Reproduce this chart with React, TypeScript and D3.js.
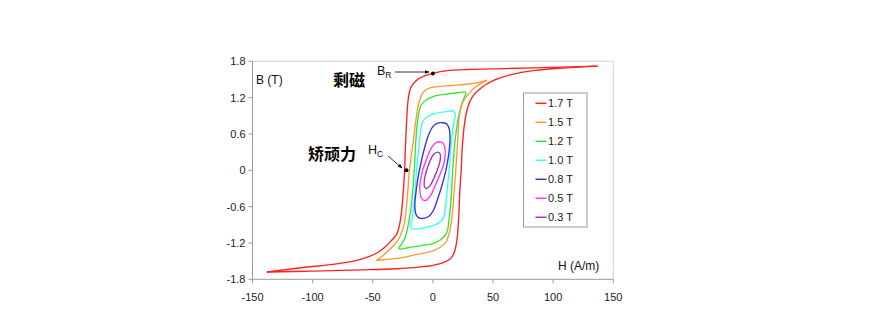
import React from "react";
import * as d3 from "d3";

const W = 870;
const H = 331;

const xTicks = [-150, -100, -50, 0, 50, 100, 150];
const xTickLabels = ["-150", "-100", "-50", "0", "50", "100", "150"];
const yTicks = [1.8, 1.2, 0.6, 0, -0.6, -1.2, -1.8];
const yTickLabels = ["1.8", "1.2", "0.6", "0", "-0.6", "-1.2", "-1.8"];

const seriesNames = ["1.7 T", "1.5 T", "1.2 T", "1.0 T", "0.8 T", "0.5 T", "0.3 T"];
const seriesColors = ["#ff2020", "#ff9933", "#33e633", "#33ffff", "#3333dd", "#ff33ff", "#aa33aa"];

// 1.7 T loop: two open branches (upper descending, lower ascending)
const red17Upper: [number, number][] = [
  [137, 1.72], [100, 1.7], [60, 1.68], [30, 1.665], [12, 1.645], [0, 1.6], [-8, 1.55], [-14, 1.48],
  [-18.5, 1.36], [-20.5, 1.18], [-22, 0.75], [-23, 0.3], [-23.5, 0], [-25, -0.45], [-27, -0.82],
  [-30, -1.05], [-35, -1.17], [-40, -1.27], [-47, -1.37], [-60, -1.47], [-80, -1.545], [-110, -1.61], [-138, -1.68],
];
const red17Lower: [number, number][] = [
  [-138, -1.68], [-100, -1.665], [-60, -1.645], [-30, -1.625], [-12, -1.6], [0, -1.57], [8, -1.53],
  [14, -1.47], [17.5, -1.37], [20, -1.15], [21.5, -0.75], [22.5, -0.3], [23.5, 0], [24.5, 0.4],
  [26.5, 0.8], [29, 1.04], [33, 1.22], [40, 1.36], [50, 1.48], [65, 1.58], [85, 1.65], [105, 1.685], [137, 1.72],
];
// 1.5 T loop
const orange15Upper: [number, number][] = [
  [45, 1.49], [40, 1.46], [30, 1.425], [15, 1.4], [3, 1.38], [-4, 1.35], [-8, 1.29], [-11.5, 1.12],
  [-14, 0.85], [-16.5, 0.45], [-19.5, 0], [-21.5, -0.5], [-24, -0.9], [-28, -1.12], [-33, -1.25], [-40, -1.38], [-47, -1.49],
];
const orange15Lower: [number, number][] = [
  [-47, -1.49], [-38, -1.47], [-28, -1.45], [-16, -1.4], [0, -1.33], [6, -1.27], [11, -1.18], [14, -1.0],
  [16, -0.74], [17.5, -0.4], [19, 0], [20.5, 0.45], [22, 0.9], [25, 1.13], [30, 1.27], [37, 1.4], [45, 1.49],
];
// closed loops
const green12: [number, number][] = [
  [26, 1.295], [20, 1.28], [10, 1.255], [2, 1.23], [-5, 1.17], [-10, 1.07], [-12.5, 0.85], [-14, 0.55],
  [-15.5, 0], [-17.5, -0.5], [-20, -0.85], [-23, -1.1], [-26, -1.22], [-28.5, -1.28], [-27, -1.3], [-20, -1.275],
  [-10, -1.245], [0, -1.21], [7, -1.14], [11.5, -1.03], [13.5, -0.8], [15, -0.5], [16.5, 0], [18.5, 0.5],
  [21, 0.85], [24, 1.1], [26.5, 1.22], [27.5, 1.28],
];
const cyan10: [number, number][] = [
  [17, 0.98], [12, 0.97], [2, 0.94], [-5, 0.88], [-8.5, 0.8], [-10.5, 0.6], [-11.5, 0.4], [-13.5, 0], [-15.5, -0.5],
  [-17, -0.78], [-18.5, -0.92], [-17, -0.965], [-12, -0.965], [-4, -0.935], [4, -0.88], [8.5, -0.8], [10.5, -0.6],
  [11.5, -0.4], [13.5, 0], [15.5, 0.5], [17.5, 0.8], [18.6, 0.93],
];
const blue08: [number, number][] = [
  [8, 0.785], [11.5, 0.765], [13.6, 0.68], [14.2, 0.52], [13.2, 0.27], [10.8, 0], [7.5, -0.25], [3.5, -0.5],
  [0.5, -0.66], [-3, -0.755], [-7, -0.79], [-11, -0.79], [-13.8, -0.74], [-15, -0.6], [-14.3, -0.4],
  [-12.6, -0.15], [-10.2, 0.1], [-6.8, 0.38], [-3.3, 0.6], [0.3, 0.73], [4, 0.78],
];
const magenta05: [number, number][] = [
  [7, 0.465], [9.5, 0.41], [10.2, 0.26], [8.7, 0.08], [6, -0.06], [2, -0.25], [-2, -0.42], [-5.5, -0.495],
  [-8.5, -0.485], [-10.6, -0.38], [-10.6, -0.2], [-8.5, 0], [-5, 0.2], [-1, 0.38], [3, 0.46],
];
const purple03: [number, number][] = [
  [4, 0.3], [5.9, 0.275], [6.2, 0.18], [4.5, 0.05], [1.5, -0.1], [-2, -0.24], [-5, -0.3], [-6.8, -0.28],
  [-7.2, -0.18], [-5.5, -0.02], [-2.5, 0.15], [0.5, 0.26],
];

const remanence: [number, number] = [0, 1.6];
const coercivity: [number, number] = [-22, 0];

export default function App() {
  const x = d3.scaleLinear().domain([-150, 150]).range([252.5, 613.3]);
  const y = d3.scaleLinear().domain([-1.8, 1.8]).range([279.3, 61.3]);

  const openLine = d3
    .line<[number, number]>()
    .x((d) => x(d[0]))
    .y((d) => y(d[1]))
    .curve(d3.curveCatmullRom.alpha(0.5));
  const closedLine = d3
    .line<[number, number]>()
    .x((d) => x(d[0]))
    .y((d) => y(d[1]))
    .curve(d3.curveCatmullRomClosed.alpha(0.5));

  const closedLoops = [green12, cyan10, blue08, magenta05, purple03];
  const latin = "'Liberation Sans', Arial, sans-serif";
  const cjk = "'Noto Sans CJK SC', sans-serif";
  const sw = 1.35;

  const x0 = x(-150);
  const x1 = x(150);
  const yT = y(1.8);
  const yB = y(-1.8);

  const legX = 523.5;
  const legY = 93;
  const legW = 63.5;
  const legH = 134;

  return (
    <div style={{ position: "absolute", left: 0, top: 0 }}>
      <svg width={W} height={H} xmlns="http://www.w3.org/2000/svg" style={{ display: "block", background: "#fff" }}>
        <defs>
          <marker id="arr" viewBox="0 0 10 10" refX="9" refY="5" markerWidth="6" markerHeight="6" orient="auto">
            <path d="M0,1 L10,5 L0,9 z" fill="#000" />
          </marker>
        </defs>
        {/* plot frame */}
        <line x1={x0} x2={x1} y1={yT} y2={yT} stroke="#d0d0d0" strokeWidth={1} />
        <line x1={x1} x2={x1} y1={yT} y2={yB} stroke="#d0d0d0" strokeWidth={1} />
        <line x1={x0} x2={x0} y1={yT} y2={yB} stroke="#9a9a9a" strokeWidth={1} />
        <line x1={x0} x2={x1} y1={yB} y2={yB} stroke="#9a9a9a" strokeWidth={1} />
        {/* y ticks */}
        {yTicks.map((t, i) => (
          <g key={"y" + i}>
            <line x1={x0 - 4} x2={x0} y1={y(t)} y2={y(t)} stroke="#9a9a9a" />
            <text x={x0 - 7} y={y(t) + 4} fontSize={11} fontFamily={latin} textAnchor="end" fill="#222">
              {yTickLabels[i]}
            </text>
          </g>
        ))}
        {/* x ticks */}
        {xTicks.map((t, i) => (
          <g key={"x" + i}>
            <line x1={x(t)} x2={x(t)} y1={yB} y2={yB + 4} stroke="#9a9a9a" />
            <text x={x(t)} y={yB + 22} fontSize={11} fontFamily={latin} textAnchor="middle" fill="#222">
              {xTickLabels[i]}
            </text>
          </g>
        ))}
        {/* curves */}
        {closedLoops.map((pts, i) => (
          <path key={"c" + i} d={closedLine(pts) || ""} fill="none" stroke={seriesColors[i + 2]} strokeWidth={sw} />
        ))}
        <path d={openLine(orange15Upper) || ""} fill="none" stroke={seriesColors[1]} strokeWidth={sw} />
        <path d={openLine(orange15Lower) || ""} fill="none" stroke={seriesColors[1]} strokeWidth={sw} />
        <path d={openLine(red17Upper) || ""} fill="none" stroke={seriesColors[0]} strokeWidth={sw} />
        <path d={openLine(red17Lower) || ""} fill="none" stroke={seriesColors[0]} strokeWidth={sw} />

        {/* axis titles */}
        <text x={256} y={84} fontSize={12} fontFamily={latin} fill="#111">B (T)</text>
        <text x={558} y={270} fontSize={12} fontFamily={latin} fill="#111">H (A/m)</text>

        {/* annotations */}
        <text x={333} y={86} fontSize={16} fontWeight="bold" fontFamily={cjk} fill="#000">剩磁</text>
        <text x={377} y={75} fontSize={12.5} fontFamily={latin} fill="#111">
          B<tspan fontSize={8.5} dy={3}>R</tspan>
        </text>
        <line x1={395} x2={429} y1={72} y2={72} stroke="#000" strokeWidth={0.8} markerEnd="url(#arr)" />
        <circle cx={x(remanence[0])} cy={y(remanence[1])} r={2} fill="#000" />

        <text x={308} y={160} fontSize={16} fontWeight="bold" fontFamily={cjk} fill="#000">矫顽力</text>
        <text x={368} y={154} fontSize={12.5} fontFamily={latin} fill="#111">
          H<tspan fontSize={8.5} dy={3}>C</tspan>
        </text>
        <line x1={388} x2={402} y1={156} y2={168} stroke="#000" strokeWidth={0.8} markerEnd="url(#arr)" />
        <circle cx={x(coercivity[0])} cy={y(coercivity[1])} r={2} fill="#000" />

        {/* legend */}
        <rect x={legX} y={legY} width={legW} height={legH} fill="#fff" stroke="#9a9a9a" strokeWidth={1} />
        {seriesNames.map((n, i) => {
          const ly = 103.3 + i * 19;
          return (
            <g key={"l" + i}>
              <line x1={535.5} x2={546.5} y1={ly} y2={ly} stroke={seriesColors[i]} strokeWidth={1.5} />
              <text x={548} y={ly + 4} fontSize={11} fontFamily={latin} fill="#222">{n}</text>
            </g>
          );
        })}
      </svg>
    </div>
  );
}
